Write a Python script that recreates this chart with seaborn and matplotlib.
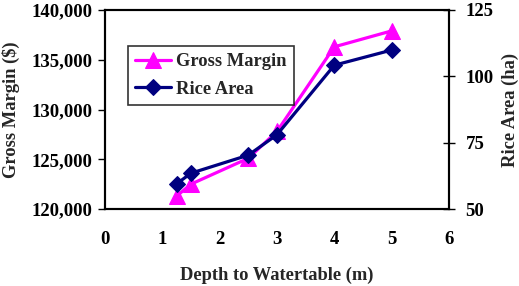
import matplotlib
matplotlib.use("Agg")
import matplotlib.pyplot as plt
import seaborn as sns
import pandas as pd
from matplotlib.ticker import FuncFormatter

depth = [1.25, 1.5, 2.5, 3.0, 4.0, 5.0]
gross_margin = [121300, 122500, 125100, 127800, 136300, 137900]
rice_area = [59.5, 63.5, 70.3, 78.0, 104.2, 109.9]

x_ticks = [0, 1, 2, 3, 4, 5, 6]
gm_ticks = [120000, 125000, 130000, 135000, 140000]
ra_ticks = [50, 75, 100, 125]

sns.set_style("white")
plt.rcParams['font.family'] = ['Liberation Serif', 'DejaVu Serif']
plt.rcParams['font.weight'] = 'bold'

df = pd.DataFrame({"depth": depth, "gm": gross_margin, "ra": rice_area})

fig = plt.figure(figsize=(5.19, 2.86), dpi=100)
ax = fig.add_axes([105/519, 1-209/286, (449-105)/519, (209-10)/286])
ax2 = ax.twinx()

sns.lineplot(data=df, x="depth", y="gm", ax=ax, color="#FF00FF", marker="^",
             markersize=11, linewidth=2.3, markeredgecolor="#FF00FF", label="Gross Margin", legend=False)
sns.lineplot(data=df, x="depth", y="ra", ax=ax2, color="#000080", marker="D",
             markersize=8, linewidth=2.3, markeredgecolor="#000080", label="Rice Area", legend=False)

ax.set_xlim(0, 6)
ax.set_ylim(120000, 140000)
ax2.set_ylim(50, 125)
ax.set_xticks(x_ticks)
ax.set_yticks(gm_ticks)
ax2.set_yticks(ra_ticks)
ax.yaxis.set_major_formatter(FuncFormatter(lambda v, p: f"{int(v):,}"))

fs_tick = 13.5
fs_lab = 13.3
for a in (ax, ax2):
    for s in a.spines.values():
        s.set_color("black")
        s.set_linewidth(1.5)
ax.tick_params(axis="both", direction="out", length=5, width=1, labelsize=fs_tick, colors="black", pad=4)
ax.tick_params(axis="x", pad=11)
ax2.tick_params(axis="y", direction="inout", length=8, width=1, labelsize=fs_tick, colors="black", pad=8)
for lab in ax.get_xticklabels() + ax.get_yticklabels() + ax2.get_yticklabels():
    lab.set_fontweight("bold")

ax.set_xlabel("Depth to Watertable (m)", fontsize=fs_lab, fontweight="bold", labelpad=13)
ax.set_ylabel("Gross Margin ($)", fontsize=fs_lab, fontweight="bold", labelpad=8)
ax2.set_ylabel("Rice Area (ha)", fontsize=fs_lab, fontweight="bold", labelpad=6)

h1, l1 = ax.get_legend_handles_labels()
h2, l2 = ax2.get_legend_handles_labels()
leg = ax2.legend(h1 + h2, l1 + l2, loc="upper left", bbox_to_anchor=(0.067, 0.819),
                 borderaxespad=0, frameon=True, fancybox=False, edgecolor="black",
                 prop={"weight": "bold", "size": 13.3}, handlelength=1.9,
                 borderpad=0.4, labelspacing=0.55, handletextpad=0.3)
leg.get_frame().set_linewidth(1.2)

fig.savefig("out.png", dpi=100)
